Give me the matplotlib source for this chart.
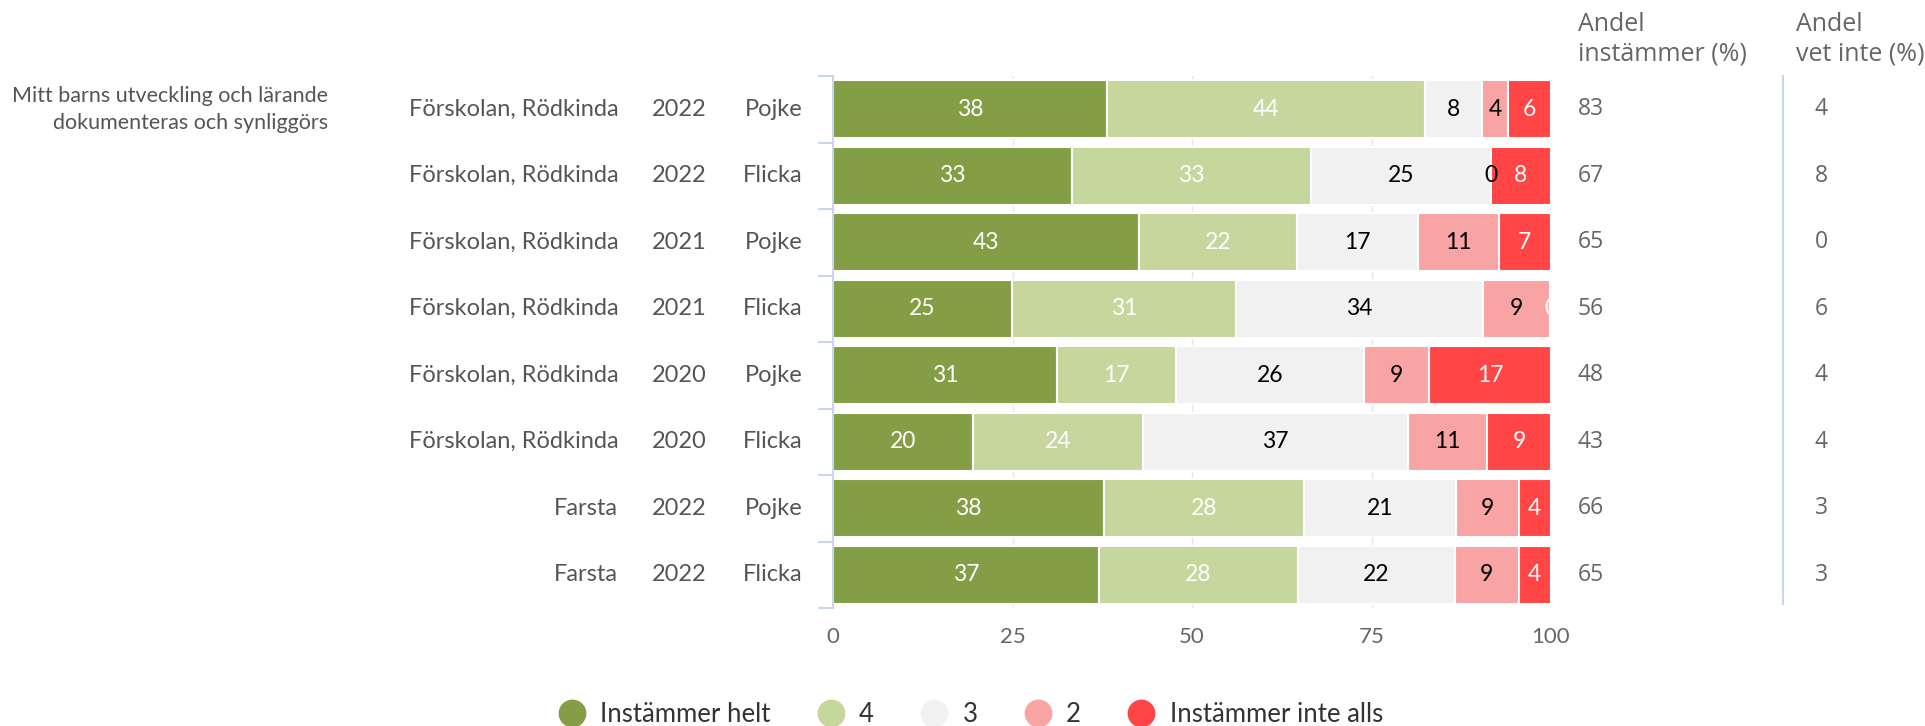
import matplotlib.pyplot as plt
from matplotlib.lines import Line2D
from matplotlib.transforms import blended_transform_factory

# Data
question = "Mitt barns utveckling och lärande\ndokumenteras och synliggörs"
sites = ["Förskolan, Rödkinda"] * 6 + ["Farsta"] * 2
years = ["2022", "2022", "2021", "2021", "2020", "2020", "2022", "2022"]
genders = ["Pojke", "Flicka", "Pojke", "Flicka", "Pojke", "Flicka", "Pojke", "Flicka"]

categories = ["Instämmer helt", "4", "3", "2", "Instämmer inte alls"]
helt = [38.2, 33.3, 42.6, 24.9, 31.2, 19.5, 37.8, 37.0]
fyra = [44.3, 33.3, 22.0, 31.2, 16.6, 23.7, 27.8, 27.7]
tre = [7.9, 25.0, 16.9, 34.4, 26.2, 36.9, 21.2, 21.9]
tva = [3.6, 0.0, 11.2, 9.4, 9.0, 11.0, 8.7, 8.9]
inte_alls = [6.0, 8.4, 7.3, 0.1, 17.0, 8.9, 4.5, 4.5]

andel_instammer = [83, 67, 65, 56, 48, 43, 66, 65]
andel_vet_inte = [4, 8, 0, 6, 4, 4, 3, 3]

colors = ["#839e44", "#c5d79d", "#f1f1f1", "#f9a4a4", "#ff4545"]
text_colors = ["white", "white", "black", "black", "white"]

plt.rcParams['font.family'] = ['Lato', 'DejaVu Sans']

fig = plt.figure(figsize=(19.25, 7.26), dpi=100)
ax = fig.add_axes([833 / 1925, 1 - 608 / 726, 718 / 1925, 532 / 726])

rows = list(range(len(sites)))
series = [helt, fyra, tre, tva, inte_alls]
left = [0.0] * len(rows)
for vals, col, tcol in zip(series, colors, text_colors):
    ax.barh(rows, vals, left=left, height=0.87, color=col,
            edgecolor="white", linewidth=1.5, zorder=2)
    for r, v, l in zip(rows, vals, left):
        ax.text(l + v / 2, r, f"{v:.0f}", ha="center", va="center",
                color=tcol, fontsize=16.5, zorder=3, clip_on=True)
    left = [a + b for a, b in zip(left, vals)]

ax.set_xlim(0, 100)
ax.set_ylim(len(rows) - 0.5, -0.5)
ax.set_xticks([0, 25, 50, 75, 100])
ax.grid(axis="x", color="#e6e6e6", linewidth=1, zorder=0)
ax.tick_params(axis="x", length=0, pad=14, labelsize=16, labelcolor="#666666")
ax.set_yticks([])
ax.set_yticks([r - 0.5 for r in rows] + [len(rows) - 0.5], minor=True)
ax.tick_params(axis="y", which="minor", length=11, width=1.5,
               color="#ccd6eb", labelleft=False)
for side in ["top", "right", "bottom"]:
    ax.spines[side].set_visible(False)
ax.spines["left"].set_color("#ccd6eb")
ax.spines["left"].set_linewidth(1.5)

# Row labels on the left
trans = blended_transform_factory(ax.transAxes, ax.transData)
for r in rows:
    ax.text(-0.299, r, sites[r], transform=trans, ha="right", va="center",
            fontsize=17, color="#555555")
    ax.text(-0.2145, r, years[r], transform=trans, ha="center", va="center",
            fontsize=17, color="#555555")
    ax.text(-0.043, r, genders[r], transform=trans, ha="right", va="center",
            fontsize=17, color="#555555")
ax.text(-0.703, 0, question, transform=trans, ha="right", va="center",
        fontsize=15.5, color="#555555", linespacing=1.45)

# Right-hand columns
for r in rows:
    ax.text(1.0376, r, str(andel_instammer[r]), transform=trans, ha="left",
            va="center", fontsize=16.5, color="#666666", family="Open Sans")
    ax.text(1.367, r, str(andel_vet_inte[r]), transform=trans, ha="left",
            va="center", fontsize=16.5, color="#666666", family="Open Sans")
fig.text(1578 / 1925, 1 - 39 / 726, "Andel\ninstämmer (%)", ha="left",
         va="center", fontsize=18, color="#666666", family="Open Sans",
         linespacing=1.25)
fig.text(1796 / 1925, 1 - 39 / 726, "Andel\nvet inte (%)", ha="left",
         va="center", fontsize=18, color="#666666", family="Open Sans",
         linespacing=1.25)
fig.add_artist(Line2D([1783 / 1925, 1783 / 1925], [1 - 76 / 726, 1 - 604 / 726],
                      color="#ccd6eb", linewidth=1.5))

# Legend
handles = [Line2D([], [], marker="o", linestyle="", markersize=19,
                  markerfacecolor=c, markeredgecolor=c) for c in colors]
fig.legend(handles, categories, loc="center", bbox_to_anchor=(0.503, 1 - 714 / 726),
           ncol=5, frameon=False, fontsize=18.5, handlelength=1.4,
           handletextpad=0.4, columnspacing=1.65, labelcolor="#333333")

fig.savefig("out.png", dpi=100)
